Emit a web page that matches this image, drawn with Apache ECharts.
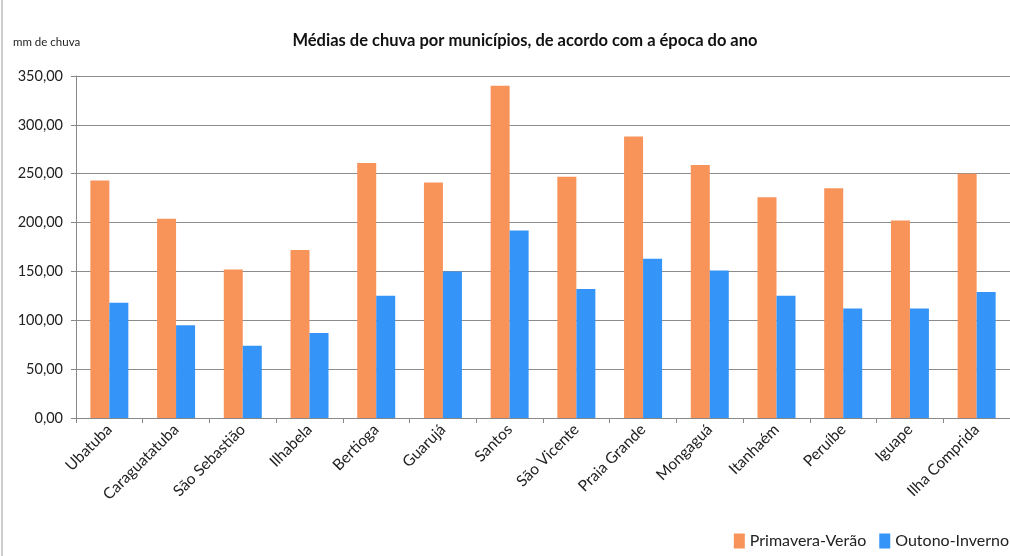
<!DOCTYPE html>
<html><head><meta charset="utf-8">
<script src="https://cdn.jsdelivr.net/npm/echarts@6/dist/echarts.min.js"></script>
<style>html,body{margin:0;padding:0;background:#fff}#c{width:1010px;height:556px}</style>
</head><body><div id="c"></div>
<script>
var categories = ["Ubatuba","Caraguatatuba","São Sebastião","Ilhabela","Bertioga","Guarujá","Santos","São Vicente","Praia Grande","Mongaguá","Itanhaém","Peruíbe","Iguape","Ilha Comprida"];
var primaveraVerao = [243, 204, 152, 172, 261, 241, 340, 247, 288, 259, 226, 235, 202, 250];
var outonoInverno = [118, 95, 74, 87, 125, 150, 192, 132, 163, 151, 125, 112, 112, 129];
var seriesNames = ["Primavera-Verão","Outono-Inverno"];
var F = "Lato, 'Open Sans', sans-serif";
var chart = echarts.init(document.getElementById('c'));
chart.setOption({
  animation:false,
  backgroundColor:'#fff',
  title:{text:'Médias de chuva por municípios, de acordo com a época do ano',left:520,textAlign:'center',top:27,
    textStyle:{fontFamily:F,fontSize:16.5,fontWeight:'bold',color:'#111'}},
  graphic:[
    {type:'text',left:13,top:36,style:{text:'mm de chuva',fontFamily:F,fontSize:11.5,fill:'#222'}},
    {type:'line',shape:{x1:2,y1:0,x2:2,y2:556},style:{stroke:'#999',lineWidth:1}}
  ],
  legend:{right:-4,top:528,itemWidth:11,itemHeight:15,itemGap:13,
    textStyle:{fontFamily:F,fontSize:16,color:'#222'},icon:'rect',data:seriesNames},
  grid:{left:76,right:-3,top:76,bottom:138,containLabel:false},
  xAxis:{type:'category',data:categories,
    axisLine:{lineStyle:{color:'#888'}},
    axisTick:{show:true,alignWithLabel:false,length:5,lineStyle:{color:'#888'}},
    axisLabel:{rotate:45,interval:0,fontFamily:F,fontSize:15.5,color:'#222',margin:9}},
  yAxis:{type:'value',min:0,max:350,interval:50,
    axisLine:{show:true,lineStyle:{color:'#888'}},
    axisTick:{show:true,length:5,lineStyle:{color:'#888'}},
    splitLine:{lineStyle:{color:'#8c8c8c',width:1}},
    axisLabel:{fontFamily:F,fontSize:14.5,color:'#222',margin:13,
      formatter:function(v){return v.toFixed(2).replace('.',',');}}},
  series:[
    {name:seriesNames[0],type:'bar',data:primaveraVerao,barWidth:19,barGap:'0%',itemStyle:{color:'#F8935A'}},
    {name:seriesNames[1],type:'bar',data:outonoInverno,barWidth:19,barGap:'0%',itemStyle:{color:'#3594F7'}}
  ]
});
</script></body></html>
